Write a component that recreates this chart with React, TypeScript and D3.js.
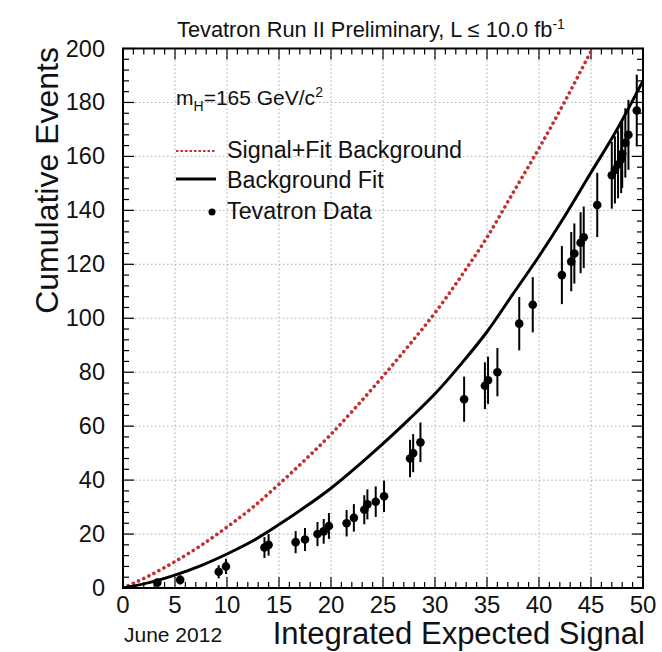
import React from "react";
import * as d3 from "d3";

const curveX = [0, 2.5, 5, 7.5, 10, 12.5, 15, 17.5, 20, 22.5, 25, 27.5, 30, 32.5, 35, 37.5, 40, 42.5, 45, 47.5, 50];
const bkgFit = [0, 2, 4.8, 8.3, 12.6, 17.5, 23.5, 30, 37, 45, 53.5, 62.5, 72, 83, 95, 109, 123, 138, 154, 170, 188];
const sigPlusBkg = [0, 4.5, 9.8, 15.8, 22.6, 30, 38.5, 47.5, 57, 67.5, 78.5, 90, 102, 115.5, 130, 146.5, 163, 180.5, 199, 217.5, 238];

const dataX = [3.3, 5.5, 9.2, 9.9, 13.6, 14.0, 16.6, 17.5, 18.7, 19.3, 19.8, 21.5, 22.2, 23.2, 23.5, 24.3, 25.1, 27.6, 27.9, 28.6, 32.8, 34.8, 35.1, 36.0, 38.1, 39.4, 42.2, 43.1, 43.4, 44.0, 44.3, 45.6, 47.0, 47.3, 47.6, 47.9, 48.0, 48.3, 48.6, 49.4];
const dataY = [2, 3, 6, 8, 15, 16, 17, 18, 20, 21, 23, 24, 26, 29, 31, 32, 34, 48, 50, 54, 70, 75, 77, 80, 98, 105, 116, 121, 124, 128, 130, 142, 153, 155, 157, 159, 161, 165, 168, 177];

const xTicks = [0, 5, 10, 15, 20, 25, 30, 35, 40, 45, 50];
const yTicks = [0, 20, 40, 60, 80, 100, 120, 140, 160, 180, 200];

const W = 662, H = 652;
const L = 123, R = 643, T = 48.5, B = 588;
const FONT = "'Liberation Sans', Arial, Helvetica, sans-serif";
const RED = "#c62f2f";

export default function App() {
  const x = d3.scaleLinear().domain([0, 50]).range([L, R]);
  const y = d3.scaleLinear().domain([0, 200]).range([B, T]);
  const line = d3.line<[number, number]>().x(d => x(d[0])).y(d => y(d[1])).curve(d3.curveMonotoneX);
  const bkgPath = line(curveX.map((v, i) => [v, bkgFit[i]] as [number, number])) || "";
  const sigPath = line(curveX.map((v, i) => [v, sigPlusBkg[i]] as [number, number])) || "";

  const xMinor = d3.range(0, 50.001, 1);
  const yMinor = d3.range(0, 200.001, 4);

  return (
    <svg width={W} height={H} style={{ position: "absolute", left: 0, top: 0, background: "#fff" }} fontFamily={FONT}>
      <defs>
        <clipPath id="plotclip">
          <rect x={L} y={T} width={R - L} height={B - T} />
        </clipPath>
      </defs>
      <rect x={0} y={0} width={W} height={H} fill="#fff" />
      {xTicks.slice(1, -1).map(t => (
        <line key={"gx" + t} x1={x(t)} x2={x(t)} y1={T} y2={B} stroke="#aaa" strokeWidth={1} strokeDasharray="1.5,2.5" />
      ))}
      {yTicks.slice(1, -1).map(t => (
        <line key={"gy" + t} x1={L} x2={R} y1={y(t)} y2={y(t)} stroke="#aaa" strokeWidth={1} strokeDasharray="1.5,2.5" />
      ))}
      {xMinor.map(t => {
        const len = t % 5 === 0 ? 11 : 6;
        return (
          <g key={"tx" + t}>
            <line x1={x(t)} x2={x(t)} y1={B} y2={B - len} stroke="#000" strokeWidth={1.2} />
            <line x1={x(t)} x2={x(t)} y1={T} y2={T + len} stroke="#000" strokeWidth={1.2} />
          </g>
        );
      })}
      {yMinor.map(t => {
        const len = t % 20 === 0 ? 11 : 6;
        return (
          <g key={"ty" + t}>
            <line x1={L} x2={L + len} y1={y(t)} y2={y(t)} stroke="#000" strokeWidth={1.2} />
            <line x1={R} x2={R - len} y1={y(t)} y2={y(t)} stroke="#000" strokeWidth={1.2} />
          </g>
        );
      })}
      <g clipPath="url(#plotclip)">
        <path d={sigPath} fill="none" stroke={RED} strokeWidth={3.6} strokeDasharray="0.1,5.6" strokeLinecap="round" />
        <path d={bkgPath} fill="none" stroke="#000" strokeWidth={3} />
      </g>
      {dataX.map((v, i) => {
        const e = Math.sqrt(dataY[i]);
        return (
          <g key={"d" + i}>
            <line x1={x(v)} x2={x(v)} y1={y(dataY[i] - e)} y2={y(dataY[i] + e)} stroke="#000" strokeWidth={2} />
            <circle cx={x(v)} cy={y(dataY[i])} r={4.3} fill="#000" />
          </g>
        );
      })}
      <rect x={L} y={T} width={R - L} height={B - T} fill="none" stroke="#000" strokeWidth={2} />
      {xTicks.map(t => (
        <text key={"lx" + t} x={x(t)} y={613} fontSize={24} textAnchor="middle" fill="#111">{t}</text>
      ))}
      {yTicks.map(t => (
        <text key={"ly" + t} x={105} y={y(t) + 8} fontSize={23.5} textAnchor="end" fill="#111">{t}</text>
      ))}
      <text x={645} y={644} fontSize={31} textAnchor="end" fill="#111">Integrated Expected Signal</text>
      <text transform={`translate(58,${47}) rotate(-90)`} fontSize={32} textAnchor="end" fill="#111">Cumulative Events</text>
      <text x={124} y={642} fontSize={21} fill="#111">June 2012</text>
      <text x={177} y={37} fontSize={21.8} fill="#111">
        Tevatron Run II Preliminary, L ≤ 10.0 fb<tspan dy={-8} fontSize={14}>-1</tspan>
      </text>
      <text x={176} y={105} fontSize={21} fill="#111">
        m<tspan dy={6} fontSize={14}>H</tspan><tspan dy={-6}>=165 GeV/c</tspan><tspan dy={-8} fontSize={14}>2</tspan>
      </text>
      <line x1={176} x2={216} y1={151} y2={151} stroke={RED} strokeWidth={2.2} strokeDasharray="2.5,2" />
      <text x={227} y={158} fontSize={23.3} fill="#111">Signal+Fit Background</text>
      <line x1={176} x2={216} y1={179} y2={179} stroke="#000" strokeWidth={3} />
      <text x={227} y={188} fontSize={23.3} fill="#111">Background Fit</text>
      <circle cx={212} cy={212} r={3.5} fill="#000" />
      <text x={227} y={219} fontSize={23.3} fill="#111">Tevatron Data</text>
    </svg>
  );
}
